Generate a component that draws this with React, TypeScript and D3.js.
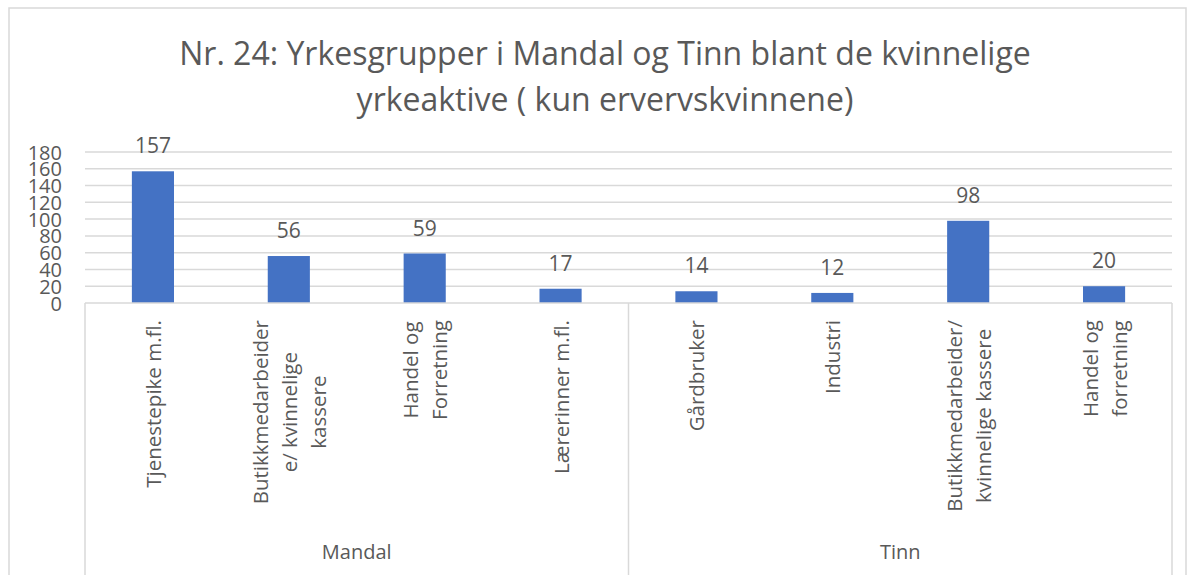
import React from 'react';
import * as d3 from 'd3';

// Chart data
const groups = ['Mandal', 'Tinn'];
const categories = [
  'Tjenestepike m.fl.',
  'Butikkmedarbeider e/ kvinnelige kassere',
  'Handel og Forretning',
  'Lærerinner m.fl.',
  'Gårdbruker',
  'Industri',
  'Butikkmedarbeider/ kvinnelige kassere',
  'Handel og forretning',
];
// wrapped lines as in the original axis
const categoryLines = [
  ['Tjenestepike m.fl.'],
  ['Butikkmedarbeider', 'e/ kvinnelige', 'kassere'],
  ['Handel og', 'Forretning'],
  ['Lærerinner m.fl.'],
  ['Gårdbruker'],
  ['Industri'],
  ['Butikkmedarbeider/', 'kvinnelige kassere'],
  ['Handel og', 'forretning'],
];
const categoryGroup = [0, 0, 0, 0, 1, 1, 1, 1];
const values = [157, 56, 59, 17, 14, 12, 98, 20];
const yTicks = [0, 20, 40, 60, 80, 100, 120, 140, 160, 180];
const titleLines = [
  'Nr. 24: Yrkesgrupper i Mandal og Tinn blant de kvinnelige',
  'yrkeaktive ( kun ervervskvinnene)',
];

const W = 1194;
const H = 575;
const FONT = "'Open Sans', sans-serif";
const TEXT = '#595959';
const GRID = '#d9d9d9';
const BAR = '#4472c4';

const plot = { left: 85, right: 1172, top: 152, bottom: 303 };
const axisBottom = 575;

let ctx: CanvasRenderingContext2D | null = null;
const measure = (s: string, size: number) => {
  if (!ctx) ctx = document.createElement('canvas').getContext('2d');
  if (!ctx) return s.length * size * 0.5;
  ctx.font = `${size}px 'Open Sans'`;
  return ctx.measureText(s).width;
};

const App: React.FC = () => {
  const x = d3.scaleBand<number>()
    .domain(d3.range(categories.length))
    .range([plot.left, plot.right])
    .padding(0);
  const y = d3.scaleLinear().domain([0, 180]).range([plot.bottom, plot.top]);
  const bw = x.bandwidth() * 0.31;

  const labelSize = 20.5;
  const lineGap = 29;

  // group boundaries
  const groupBounds = groups.map((_, gi) => {
    const idx = categoryGroup.map((g, i) => (g === gi ? i : -1)).filter(i => i >= 0);
    const x0 = x(idx[0])!;
    const x1 = x(idx[idx.length - 1])! + x.bandwidth();
    return { x0, x1 };
  });
  const separators = [plot.left, ...groupBounds.map(b => b.x1)];

  return (
    <svg width={W} height={H} style={{ position: 'absolute', left: 0, top: 0, background: '#fff' }}>
      {/* chart border */}
      <rect x={9} y={8} width={1177} height={580} fill="#fff" stroke={GRID} strokeWidth={1.5} />

      {/* title */}
      {titleLines.map((t, i) => (
        <text key={i} x={605} y={52 + i * 46} textAnchor="middle" dominantBaseline="central"
          fontFamily={FONT} fontSize={32} fill={TEXT}>{t}</text>
      ))}

      {/* gridlines */}
      {yTicks.filter(t => t > 0).map(t => (
        <line key={t} x1={plot.left} x2={plot.right} y1={y(t)} y2={y(t)} stroke={GRID} strokeWidth={1.5} />
      ))}

      {/* y tick labels */}
      {yTicks.map(t => (
        <text key={t} x={62} y={y(t)} textAnchor="end" dominantBaseline="central"
          fontFamily={FONT} fontSize={20} fill={TEXT}>{t}</text>
      ))}

      {/* bars */}
      {values.map((v, i) => (
        <rect key={i} x={x(i)! + (x.bandwidth() - bw) / 2} y={y(v)} width={bw} height={y(0) - y(v)} fill={BAR} />
      ))}

      {/* data labels */}
      {values.map((v, i) => (
        <text key={i} x={x(i)! + x.bandwidth() / 2} y={y(v) - 18} textAnchor="middle"
          fontFamily={FONT} fontSize={21} fill={TEXT}>{v}</text>
      ))}

      {/* category axis */}
      <line x1={plot.left} x2={plot.right} y1={plot.bottom} y2={plot.bottom} stroke={GRID} strokeWidth={1.5} />
      {separators.map((sx, i) => (
        <line key={i} x1={sx} x2={sx} y1={plot.bottom} y2={axisBottom} stroke={GRID} strokeWidth={1.5} />
      ))}

      {/* rotated category labels */}
      {categoryLines.map((lines, i) => {
        const cx = x(i)! + x.bandwidth() / 2;
        const maxLen = d3.max(lines, l => measure(l, labelSize)) ?? 0;
        const cy = 320 + maxLen / 2;
        return lines.map((l, j) => (
          <text key={`${i}-${j}`} transform={`translate(${cx + (j - (lines.length - 1) / 2) * lineGap},${cy}) rotate(-90)`}
            textAnchor="middle" dominantBaseline="central" fontFamily={FONT} fontSize={labelSize} fill={TEXT}>{l}</text>
        ));
      })}

      {/* group labels */}
      {groups.map((g, gi) => (
        <text key={g} x={(groupBounds[gi].x0 + groupBounds[gi].x1) / 2} y={551} textAnchor="middle"
          dominantBaseline="central" fontFamily={FONT} fontSize={20} fill={TEXT}>{g}</text>
      ))}
    </svg>
  );
};

export default App;
